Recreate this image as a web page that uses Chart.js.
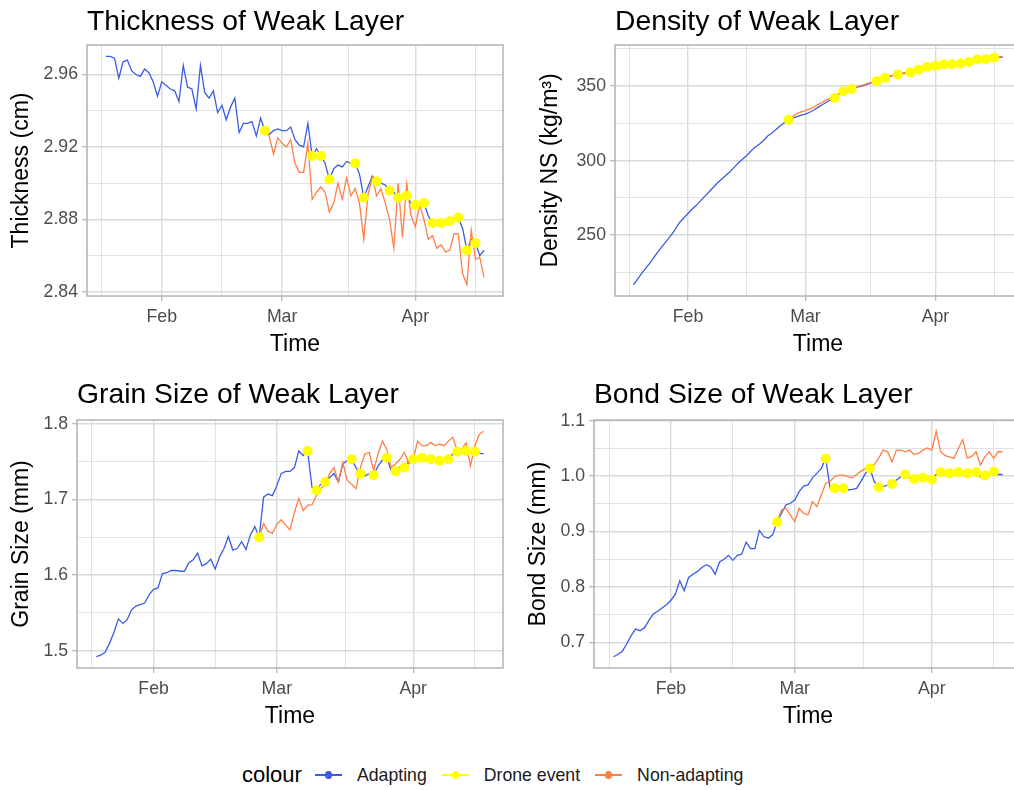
<!DOCTYPE html>
<html>
<head>
<meta charset="utf-8">
<title>Weak layer properties</title>
<script src="https://cdn.jsdelivr.net/npm/chart.js@4.4.1/dist/chart.umd.min.js"></script>
<style>
  html, body { margin: 0; padding: 0; background: #ffffff; }
  body {
    position: relative;
    width: 1014px;
    height: 790px;
    overflow: hidden;
    font-family: "Liberation Sans", Arial, sans-serif;
  }
  canvas { position: absolute; }
  .panel-title {
    position: absolute;
    font-size: 28.3px;
    line-height: 28.3px;
    color: #000;
    white-space: nowrap;
  }
  #legend {
    position: absolute;
    left: 242px;
    top: 763px;
    height: 24px;
    display: flex;
    align-items: center;
    white-space: nowrap;
    color: #1a1a1a;
  }
  #legend .lg-title { font-size: 22px; color: #000; margin-right: 13px; }
  #legend .lg-key { position: relative; width: 27px; height: 12px; margin-right: 15px; }
  #legend .lg-key .ln { position: absolute; left: 0; right: 0; top: 5.3px; height: 1.4px; }
  #legend .lg-key .dot { position: absolute; left: 9.8px; top: 2.3px; width: 7.4px; height: 7.4px; border-radius: 50%; }
  #legend .lg-label { font-size: 17.7px; margin-right: 15px; }
</style>
</head>
<body>
<div id="legend"></div>
<script>
// days counted from 1 January (1 Jan = 0), one model value per day
const firstDay = 18;          // first model day (19 Jan)
const nonAdaptStartDay = 55;  // first drone flight, non-adapting run starts here
const droneDays = [55, 66, 68, 70, 76, 78, 81, 84, 86, 88, 90, 92, 94, 96, 98, 100, 102, 104];

const monthDays = [31, 59, 90];
const monthLabels = ['Feb', 'Mar', 'Apr'];
const minorDays = [17, 45, 74.5, 104];

const seriesNames = ['Adapting', 'Drone event', 'Non-adapting'];
const seriesColors = ['#3b5ce4', '#ffff00', '#ff7f45'];

// thickness (cm)
const thickAdapting = [
  2.970, 2.970, 2.969, 2.958, 2.967, 2.968, 2.962, 2.960, 2.959, 2.963,
  2.961, 2.956, 2.948, 2.956, 2.954, 2.952, 2.951, 2.945, 2.965, 2.953,
  2.952, 2.941, 2.965, 2.950, 2.947, 2.951, 2.939, 2.943, 2.935, 2.942,
  2.947, 2.928, 2.933, 2.933, 2.934, 2.926, 2.936, 2.929, 2.927, 2.929,
  2.930, 2.929, 2.929, 2.931, 2.924, 2.921, 2.920, 2.933, 2.915, 2.919,
  2.915, 2.911, 2.902, 2.908, 2.910, 2.909, 2.912, 2.911, 2.911, 2.905,
  2.892, 2.898, 2.904, 2.901, 2.900, 2.899, 2.896, 2.895, 2.892, 2.893,
  2.893, 2.889, 2.888, 2.889, 2.889, 2.882, 2.878, 2.879, 2.878, 2.879,
  2.879, 2.881, 2.881, 2.875, 2.863, 2.869, 2.867, 2.860, 2.863
];
const thickNonAdapting = [
  2.929, 2.926, 2.916, 2.925, 2.922, 2.920, 2.924, 2.911, 2.906, 2.906,
  2.922, 2.891, 2.895, 2.898, 2.895, 2.884, 2.889, 2.900, 2.891, 2.903,
  2.893, 2.897, 2.889, 2.869, 2.894, 2.903, 2.893, 2.897, 2.889, 2.880,
  2.864, 2.900, 2.870, 2.900, 2.882, 2.876, 2.888, 2.880, 2.869, 2.871,
  2.864, 2.866, 2.862, 2.863, 2.872, 2.872, 2.850, 2.844, 2.874, 2.858,
  2.859, 2.848
];
const thickDrone = [2.929, 2.915, 2.915, 2.902, 2.911, 2.892, 2.901, 2.896, 2.892,
  2.893, 2.888, 2.889, 2.878, 2.878, 2.879, 2.881, 2.863, 2.867];
const thickTicks = [2.84, 2.88, 2.92, 2.96];
const thickTickLabels = ['2.84', '2.88', '2.92', '2.96'];
const thickMinorTicks = [2.86, 2.90, 2.94];

// density (kg/m3)
const densAdapting = [
  216.8, 220.5, 224.5, 228.0, 231.5, 235.5, 239.5, 243.0, 246.5, 250.0,
  254.0, 258.5, 261.5, 264.5, 267.5, 270.0, 273.0, 276.0, 279.0, 282.0,
  285.0, 287.5, 290.0, 292.5, 295.5, 298.5, 301.0, 303.5, 306.5, 309.0,
  311.0, 313.5, 316.5, 318.5, 321.0, 323.5, 325.5, 327.4, 328.5, 329.5,
  330.5, 331.3, 332.5, 334.0, 335.8, 337.5, 339.2, 340.7, 342.1, 344.5,
  346.6, 347.5, 348.2, 349.0, 349.8, 350.5, 351.6, 352.5, 353.4, 354.5,
  355.7, 356.5, 357.2, 357.9, 358.3, 358.8, 359.3, 360.2, 361.1, 362.0,
  362.9, 363.4, 363.8, 364.2, 364.5, 364.6, 364.7, 365.0, 365.2, 365.8,
  366.3, 367.1, 367.9, 368.0, 368.1, 368.7, 369.2, 369.4, 369.6
];
const densNonAdapting = [
  327.4, 329.8, 331.6, 332.8, 333.6, 334.6, 336.0, 337.6, 339.2, 340.8,
  342.0, 343.2, 345.0, 346.9, 347.9, 348.5, 349.4, 350.3, 351.1, 352.0,
  352.8, 353.6, 354.8, 355.9, 356.8, 357.5, 358.1, 358.7, 359.2, 359.6,
  360.5, 361.3, 362.2, 363.0, 363.6, 364.1, 364.4, 364.7, 364.9, 365.0,
  365.3, 365.5, 366.0, 366.6, 367.3, 368.0, 368.3, 368.5, 369.0, 369.4,
  369.7, 370.0
];
const densDrone = [327.4, 342.1, 346.6, 348.2, 353.4, 355.7, 357.9, 359.3, 361.1,
  362.9, 363.8, 364.5, 364.7, 365.2, 366.3, 367.9, 368.1, 369.2];
const densTicks = [250, 300, 350];
const densTickLabels = ['250', '300', '350'];
const densMinorTicks = [225, 275, 325, 375];

// grain size (mm)
const grainAdapting = [
  1.492, 1.494, 1.498, 1.510, 1.524, 1.542, 1.536, 1.541, 1.554, 1.559,
  1.561, 1.563, 1.574, 1.581, 1.583, 1.602, 1.603, 1.606, 1.606, 1.605,
  1.605, 1.616, 1.620, 1.629, 1.612, 1.615, 1.621, 1.608, 1.624, 1.635,
  1.651, 1.633, 1.635, 1.644, 1.634, 1.653, 1.664, 1.650, 1.703, 1.707,
  1.705, 1.718, 1.734, 1.737, 1.737, 1.742, 1.764, 1.758, 1.764, 1.716,
  1.712, 1.720, 1.723, 1.729, 1.734, 1.723, 1.747, 1.751, 1.753, 1.742,
  1.734, 1.731, 1.734, 1.732, 1.744, 1.752, 1.755, 1.738, 1.737, 1.743,
  1.742, 1.751, 1.753, 1.755, 1.755, 1.752, 1.753, 1.751, 1.751, 1.753,
  1.753, 1.760, 1.763, 1.764, 1.764, 1.762, 1.763, 1.761, 1.760
];
const grainNonAdapting = [
  1.650, 1.668, 1.658, 1.655, 1.667, 1.673, 1.666, 1.660, 1.683, 1.701,
  1.685, 1.692, 1.693, 1.705, 1.714, 1.720, 1.734, 1.742, 1.723, 1.749,
  1.725, 1.720, 1.714, 1.742, 1.760, 1.762, 1.738, 1.760, 1.777, 1.766,
  1.742, 1.747, 1.753, 1.762, 1.747, 1.753, 1.777, 1.771, 1.771, 1.775,
  1.771, 1.773, 1.771, 1.777, 1.782, 1.764, 1.766, 1.775, 1.744, 1.771,
  1.786, 1.790
];
const grainDrone = [1.650, 1.764, 1.712, 1.723, 1.753, 1.734, 1.732, 1.755, 1.737,
  1.742, 1.753, 1.755, 1.753, 1.751, 1.753, 1.763, 1.764, 1.763];
const grainTicks = [1.5, 1.6, 1.7, 1.8];
const grainTickLabels = ['1.5', '1.6', '1.7', '1.8'];
const grainMinorTicks = [1.55, 1.65, 1.75];

// bond size (mm)
const bondAdapting = [
  0.674, 0.678, 0.684, 0.697, 0.712, 0.724, 0.721, 0.726, 0.739, 0.751,
  0.756, 0.762, 0.768, 0.776, 0.787, 0.811, 0.793, 0.817, 0.823, 0.828,
  0.835, 0.840, 0.836, 0.823, 0.845, 0.850, 0.857, 0.848, 0.857, 0.859,
  0.881, 0.869, 0.869, 0.902, 0.891, 0.888, 0.894, 0.917, 0.933, 0.948,
  0.951, 0.957, 0.972, 0.982, 0.984, 0.997, 1.005, 1.014, 1.032, 0.978,
  0.978, 0.975, 0.978, 0.975, 0.976, 0.978, 0.991, 1.005, 1.014, 0.990,
  0.980, 0.981, 0.984, 0.986, 0.993, 0.999, 1.003, 0.996, 0.995, 0.997,
  0.997, 0.997, 0.994, 1.003, 1.007, 1.003, 1.005, 1.003, 1.007, 1.005,
  1.005, 1.005, 1.007, 0.999, 1.001, 1.005, 1.008, 1.003, 1.003
];
const bondNonAdapting = [
  0.917, 0.939, 0.942, 0.930, 0.918, 0.942, 0.933, 0.930, 0.954, 0.945,
  0.966, 0.987, 0.991, 0.999, 1.002, 1.002, 0.999, 0.997, 1.003, 1.009,
  1.014, 1.017, 1.021, 1.033, 1.047, 1.044, 1.026, 1.047, 1.047, 1.044,
  1.047, 1.039, 1.041, 1.047, 1.051, 1.047, 1.081, 1.044, 1.037, 1.035,
  1.032, 1.050, 1.066, 1.033, 1.035, 1.044, 1.020, 1.035, 1.044, 1.032,
  1.044, 1.044
];
const bondDrone = [0.917, 1.032, 0.978, 0.978, 1.014, 0.980, 0.986, 1.003, 0.995,
  0.997, 0.994, 1.007, 1.005, 1.007, 1.005, 1.007, 1.001, 1.008];
const bondTicks = [0.7, 0.8, 0.9, 1.0, 1.1];
const bondTickLabels = ['0.7', '0.8', '0.9', '1.0', '1.1'];
const bondMinorTicks = [0.75, 0.85, 0.95, 1.05];

// layout of the four panels (pixel boxes of the plotting area)
const panels = [
  { title: 'Thickness of Weak Layer', yTitle: 'Thickness (cm)',
    adapting: thickAdapting, nonAdapting: thickNonAdapting, drone: thickDrone,
    ticks: thickTicks, tickLabels: thickTickLabels, minorTicks: thickMinorTicks,
    box: { left: 87, top: 45, right: 503, bottom: 296 }, originX: 0, yTitleX: 22, titleTop: 5.5 },
  { title: 'Density of Weak Layer', yTitle: 'Density NS (kg/m³)',
    adapting: densAdapting, nonAdapting: densNonAdapting, drone: densDrone,
    ticks: densTicks, tickLabels: densTickLabels, minorTicks: densMinorTicks,
    box: { left: 615, top: 45, right: 1021, bottom: 296 }, originX: 507, yTitleX: 551, titleTop: 5.5 },
  { title: 'Grain Size of Weak Layer', yTitle: 'Grain Size (mm)',
    adapting: grainAdapting, nonAdapting: grainNonAdapting, drone: grainDrone,
    ticks: grainTicks, tickLabels: grainTickLabels, minorTicks: grainMinorTicks,
    box: { left: 77, top: 420, right: 503, bottom: 668 }, originX: 0, yTitleX: 22, titleTop: 379 },
  { title: 'Bond Size of Weak Layer', yTitle: 'Bond Size (mm)',
    adapting: bondAdapting, nonAdapting: bondNonAdapting, drone: bondDrone,
    ticks: bondTicks, tickLabels: bondTickLabels, minorTicks: bondMinorTicks,
    box: { left: 594, top: 420, right: 1022, bottom: 668 }, originX: 507, yTitleX: 539, titleTop: 379 }
];

Chart.defaults.font.family = '"Liberation Sans", Arial, sans-serif';

const padTop = 16, padRight = 8, xAxisHeight = 62;
const axisTitleSize = 23;
const gridMajor = '#d6dbdb', gridMinor = '#dfe3e3', tickMark = '#b3b3b3';

// ggplot style 5% expansion of the data range
function expand(lo, hi) {
  const pad = (hi - lo) * 0.05;
  return [lo - pad, hi + pad];
}

// draws the grey frame around the plotting area
const panelBorder = {
  id: 'panelBorder',
  afterDatasetsDraw(chart) {
    const { ctx, chartArea: a } = chart;
    ctx.save();
    ctx.strokeStyle = tickMark;
    ctx.lineWidth = 1.5;
    ctx.strokeRect(a.left, a.top, a.right - a.left, a.bottom - a.top);
    ctx.restore();
  }
};

function makePanel(p) {
  const canvas = document.createElement('canvas');
  const w = p.box.right - p.originX + padRight;
  const h = padTop + (p.box.bottom - p.box.top) + xAxisHeight;
  canvas.width = w;
  canvas.height = h;
  canvas.style.width = w + 'px';
  canvas.style.height = h + 'px';
  canvas.style.left = p.originX + 'px';
  canvas.style.top = (p.box.top - padTop) + 'px';
  document.body.appendChild(canvas);

  const title = document.createElement('div');
  title.className = 'panel-title';
  title.textContent = p.title;
  title.style.left = p.box.left + 'px';
  title.style.top = p.titleTop + 'px';
  document.body.appendChild(title);

  const lastDay = firstDay + p.adapting.length - 1;
  const allY = p.adapting.concat(p.nonAdapting, p.drone);
  const [yMin, yMax] = expand(Math.min(...allY), Math.max(...allY));
  const [xMin, xMax] = expand(firstDay, lastDay);

  const yTickValues = p.ticks.concat(p.minorTicks)
    .filter(v => v >= yMin && v <= yMax).sort((a, b) => a - b);
  const xTickValues = monthDays.concat(minorDays)
    .filter(v => v >= xMin && v <= xMax).sort((a, b) => a - b);
  const isMajorX = ctx => ctx.tick && monthDays.includes(ctx.tick.value);
  const isMajorY = ctx => ctx.tick && p.ticks.includes(ctx.tick.value);

  const adaptPts = p.adapting.map((v, i) => ({ x: firstDay + i, y: v }));
  const nonPts = p.nonAdapting.map((v, i) => ({ x: nonAdaptStartDay + i, y: v }));
  const dronePts = p.drone.map((v, i) => ({ x: droneDays[i], y: v }));

  const chart = new Chart(canvas, {
    type: 'line',
    data: {
      datasets: [
        { label: seriesNames[1], data: dronePts, showLine: false,
          pointRadius: 5, pointHoverRadius: 5, pointBorderWidth: 0,
          pointBackgroundColor: seriesColors[1], pointBorderColor: seriesColors[1] },
        { label: seriesNames[2], data: nonPts, borderColor: seriesColors[2],
          borderWidth: 1.3, pointRadius: 0, tension: 0 },
        { label: seriesNames[0], data: adaptPts, borderColor: seriesColors[0],
          borderWidth: 1.3, pointRadius: 0, tension: 0 }
      ]
    },
    options: {
      responsive: false,
      animation: false,
      events: [],
      layout: { padding: { top: padTop, right: padRight, left: 0, bottom: 0 } },
      plugins: { legend: { display: false }, tooltip: { enabled: false }, title: { display: false } },
      scales: {
        x: {
          type: 'linear',
          min: xMin,
          max: xMax,
          afterBuildTicks: s => { s.ticks = xTickValues.map(v => ({ value: v })); },
          afterFit: s => { s.height = xAxisHeight; },
          border: { display: false },
          grid: {
            color: c => isMajorX(c) ? gridMajor : gridMinor,
            lineWidth: c => isMajorX(c) ? 1.4 : 1.0,
            tickColor: c => isMajorX(c) ? tickMark : 'rgba(0,0,0,0)',
            tickWidth: 1.2,
            tickLength: 5
          },
          ticks: {
            autoSkip: false,
            maxRotation: 0,
            padding: 5,
            color: '#4d4d4d',
            font: { size: 17.7 },
            callback: v => {
              const i = monthDays.indexOf(v);
              return i >= 0 ? monthLabels[i] : '';
            }
          },
          title: { display: true, text: 'Time', color: '#000', font: { size: axisTitleSize },
                   padding: { top: 0, bottom: 0 } }
        },
        y: {
          type: 'linear',
          min: yMin,
          max: yMax,
          afterBuildTicks: s => { s.ticks = yTickValues.map(v => ({ value: v })); },
          afterFit: s => { s.width = p.box.left - p.originX; },
          border: { display: false },
          grid: {
            color: c => isMajorY(c) ? gridMajor : gridMinor,
            lineWidth: c => isMajorY(c) ? 1.4 : 1.0,
            tickColor: c => isMajorY(c) ? tickMark : 'rgba(0,0,0,0)',
            tickWidth: 1.2,
            tickLength: 5
          },
          ticks: {
            autoSkip: false,
            padding: 4,
            color: '#4d4d4d',
            font: { size: 17.7 },
            callback: v => {
              const i = p.ticks.indexOf(v);
              return i >= 0 ? p.tickLabels[i] : '';
            }
          },
          title: { display: true, text: p.yTitle, color: '#000', font: { size: axisTitleSize },
                   padding: { top: p.yTitleX - p.originX - axisTitleSize * 0.6, bottom: 0 } }
        }
      }
    },
    plugins: [panelBorder]
  });

  // small correction so the plotting area sits exactly in its box
  const ca = chart.chartArea;
  canvas.style.left = (p.box.left - ca.left) + 'px';
  canvas.style.top = (p.box.top - ca.top) + 'px';
}

panels.forEach(makePanel);

// legend, ggplot style: title then a line+point key per series
const legend = document.getElementById('legend');
const lgTitle = document.createElement('span');
lgTitle.className = 'lg-title';
lgTitle.textContent = 'colour';
legend.appendChild(lgTitle);
seriesNames.forEach((name, i) => {
  const key = document.createElement('span');
  key.className = 'lg-key';
  key.innerHTML = '<i class="ln" style="background:' + seriesColors[i] + '"></i>' +
                  '<i class="dot" style="background:' + seriesColors[i] + '"></i>';
  legend.appendChild(key);
  const label = document.createElement('span');
  label.className = 'lg-label';
  label.textContent = name;
  legend.appendChild(label);
});
</script>
</body>
</html>
